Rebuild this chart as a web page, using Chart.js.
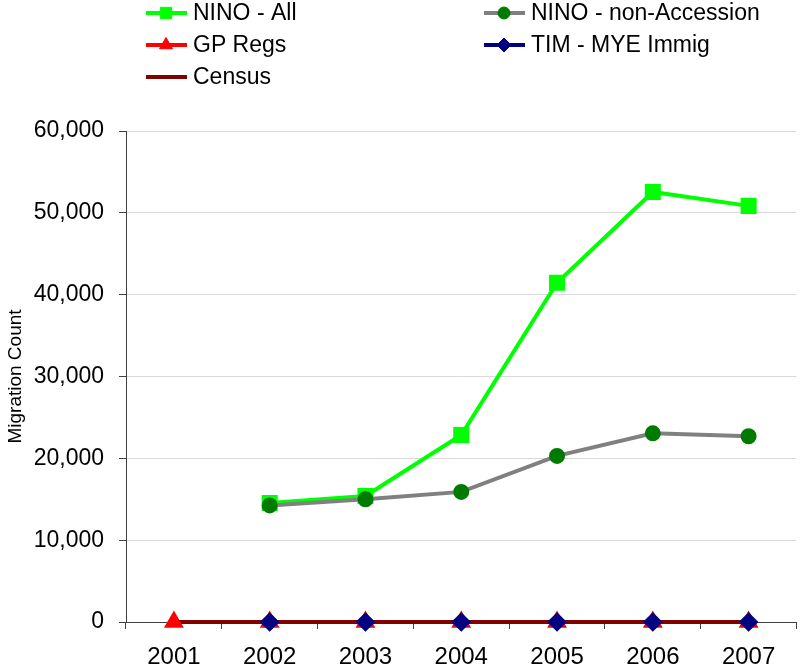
<!DOCTYPE html>
<html>
<head>
<meta charset="utf-8">
<title>Migration Count</title>
<script src="https://cdn.jsdelivr.net/npm/chart.js@4.4.1/dist/chart.umd.min.js"></script>
<style>
    body { margin: 0; background: #fff; }
    #chart { display: block; }
</style>
</head>
<body>
<canvas id="chart" width="809" height="667"></canvas>
<script>
// Chart data
const years = ['2001', '2002', '2003', '2004', '2005', '2006', '2007'];
const ninoAll = [null, 14550, 15400, 22850, 41450, 52550, 50850];
const ninoNonAccession = [null, 14250, 15000, 15900, 20300, 23050, 22700];
const gpRegs = [0, 0, 0, 0, 0, 0, 0];
const timImmig = [null, 0, 0, 0, 0, 0, 0];
const census = [0, 0, 0, 0, 0, 0, 0];
const yTicks = [0, 10000, 20000, 30000, 40000, 50000, 60000];

const FONT = '"Liberation Sans", Arial, sans-serif';

// Two-column legend drawn on the canvas, Excel style
const legendPlugin = {
    id: 'excelLegend',
    afterDraw(chart) {
        const ctx = chart.ctx;
        const cols = [146, 484];
        const rows = [13, 45, 77];
        ctx.save();
        chart.data.datasets.forEach((ds, i) => {
            const x = cols[i % 2];
            const y = rows[Math.floor(i / 2)];
            ctx.strokeStyle = ds.borderColor;
            ctx.lineWidth = 4;
            ctx.beginPath();
            ctx.moveTo(x, y);
            ctx.lineTo(x + 41, y);
            ctx.stroke();
            if (ds.pointStyle && ds.pointRadius > 0) {
                ctx.fillStyle = ds.pointBackgroundColor;
                ctx.strokeStyle = ds.pointBorderColor;
                ctx.lineWidth = 1;
                Chart.helpers.drawPoint(ctx, {
                    pointStyle: ds.pointStyle,
                    radius: ds.legendRadius,
                    rotation: 0,
                    borderWidth: 1
                }, x + 20, y);
            }
            ctx.fillStyle = '#000';
            ctx.font = '23px ' + FONT;
            ctx.textBaseline = 'middle';
            ctx.textAlign = 'left';
            ctx.fillText(ds.label, x + 47, y + 1);
        });
        ctx.restore();
    }
};

const ctx = document.getElementById('chart').getContext('2d');
new Chart(ctx, {
    type: 'line',
    data: {
        labels: years,
        datasets: [
            {
                label: 'NINO - All',
                data: ninoAll,
                borderColor: '#00ff00',
                borderWidth: 4,
                pointStyle: 'rect',
                pointRadius: 8.5,
                legendRadius: 8,
                pointBackgroundColor: '#00ff00',
                pointBorderColor: '#00ff00',
                order: 4
            },
            {
                label: 'NINO - non-Accession',
                data: ninoNonAccession,
                borderColor: '#808080',
                borderWidth: 4,
                pointStyle: 'circle',
                pointRadius: 6,
                legendRadius: 6,
                pointBackgroundColor: '#007a00',
                pointBorderColor: '#007a00',
                order: 3
            },
            {
                label: 'GP Regs',
                data: gpRegs,
                borderColor: '#ff0000',
                borderWidth: 4,
                showLine: false,
                pointStyle: 'triangle',
                pointRadius: 7.5,
                legendRadius: 7.5,
                pointBackgroundColor: '#ff0000',
                pointBorderColor: '#ff0000',
                order: 1
            },
            {
                label: 'TIM - MYE Immig',
                data: timImmig,
                borderColor: '#000080',
                borderWidth: 4,
                showLine: false,
                pointStyle: 'rectRot',
                pointRadius: 7,
                legendRadius: 7,
                pointBackgroundColor: '#000080',
                pointBorderColor: '#000080',
                order: 0
            },
            {
                label: 'Census',
                data: census,
                borderColor: '#800000',
                borderWidth: 4,
                pointRadius: 0,
                pointStyle: false,
                order: 2
            }
        ]
    },
    options: {
        responsive: false,
        animation: false,
        clip: false,
        layout: { padding: { top: 131, right: 8, left: 0, bottom: 0 } },
        plugins: {
            legend: { display: false },
            tooltip: { enabled: false }
        },
        scales: {
            x: {
                offset: true,
                grid: {
                    offset: true,
                    drawOnChartArea: true,
                    color: (c) => c.index === years.length ? '#b3b3b3' : 'rgba(0,0,0,0)',
                    tickColor: '#404040',
                    tickLength: 7
                },
                border: { color: '#404040', width: 1 },
                ticks: {
                    color: '#000',
                    font: { family: FONT, size: 24 },
                    padding: 14,
                    maxRotation: 0
                },
                afterFit: (s) => { s.height = 45; }
            },
            y: {
                min: yTicks[0],
                max: yTicks[yTicks.length - 1],
                afterBuildTicks: (s) => { s.ticks = yTicks.map(v => ({ value: v })); },
                grid: {
                    color: '#d9d9d9',
                    tickColor: '#404040',
                    tickLength: 7
                },
                border: { color: '#404040', width: 1 },
                ticks: {
                    color: '#000',
                    font: { family: FONT, size: 23 },
                    padding: 15,
                    callback: (v) => v.toLocaleString('en-US')
                },
                title: {
                    display: true,
                    text: 'Migration Count',
                    color: '#000',
                    font: { family: FONT, size: 19 },
                    padding: { top: 4, bottom: 0 }
                },
                afterFit: (s) => { s.width = 126; }
            }
        }
    },
    plugins: [legendPlugin]
});
</script>
</body>
</html>
